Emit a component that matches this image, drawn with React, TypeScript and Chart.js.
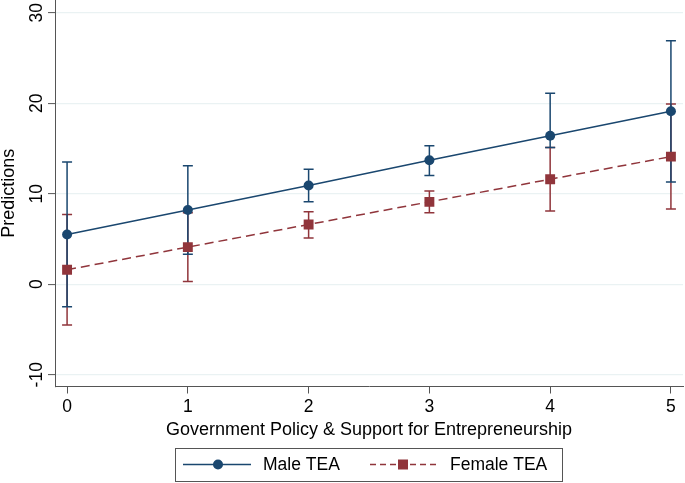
import React, { useEffect, useRef } from "react";
import { Chart, registerables } from "chart.js";

Chart.register(...registerables);

const xValues = [0, 1, 2, 3, 4, 5];
const maleMean = [5.5, 8.2, 10.9, 13.7, 16.4, 19.1];
const maleLow = [-2.5, 3.3, 9.1, 12.0, 15.1, 11.3];
const maleHigh = [13.5, 13.1, 12.7, 15.3, 21.1, 26.9];
const femaleMean = [1.6, 4.1, 6.6, 9.1, 11.6, 14.1];
const femaleLow = [-4.5, 0.3, 5.1, 7.9, 8.1, 8.3];
const femaleHigh = [7.7, 7.9, 8.0, 10.3, 15.1, 19.9];
const yTickValues = [-10, 0, 10, 20, 30];
const xTickValues = [0, 1, 2, 3, 4, 5];
const seriesLabels = ["Male TEA", "Female TEA"];
const xTitle = "Government Policy & Support for Entrepreneurship";
const yTitle = "Predictions";

const BLUE = "#1a476f";
const RED = "#90353b";
const FONT = "'Liberation Sans', Arial, Helvetica, sans-serif";

const errorBarPlugin = {
  id: "errorBars",
  beforeDatasetsDraw(chart: any) {
    const { ctx, scales } = chart;
    const xs = scales.x;
    const ys = scales.y;
    const order = [1, 0];
    for (const di of order) {
      const ds = chart.data.datasets[di];
      const lows = ds.errLow as number[];
      const highs = ds.errHigh as number[];
      ctx.save();
      ctx.strokeStyle = ds.borderColor;
      ctx.lineWidth = 1.5;
      ctx.setLineDash([]);
      ds.data.forEach((p: any, i: number) => {
        const px = xs.getPixelForValue(p.x);
        const yl = ys.getPixelForValue(lows[i]);
        const yh = ys.getPixelForValue(highs[i]);
        ctx.beginPath();
        ctx.moveTo(px, yl);
        ctx.lineTo(px, yh);
        ctx.moveTo(px - 5, yl);
        ctx.lineTo(px + 5, yl);
        ctx.moveTo(px - 5, yh);
        ctx.lineTo(px + 5, yh);
        ctx.stroke();
      });
      ctx.restore();
    }
  },
};

const yLabelPlugin = {
  id: "yLabels",
  afterDraw(chart: any) {
    const { ctx, scales } = chart;
    const ys = scales.y;
    ctx.save();
    ctx.fillStyle = "#000";
    ctx.font = `17.5px ${FONT}`;
    ctx.textAlign = "center";
    ctx.textBaseline = "middle";
    for (const v of yTickValues) {
      const py = ys.getPixelForValue(v);
      ctx.save();
      ctx.translate(37, py);
      ctx.rotate(-Math.PI / 2);
      ctx.fillText(String(v), 0, 0);
      ctx.restore();
    }
    ctx.restore();
  },
};

const legendPlugin = {
  id: "boxLegend",
  afterDraw(chart: any) {
    const { ctx } = chart;
    const ds = chart.data.datasets;
    ctx.save();
    ctx.strokeStyle = "#555";
    ctx.lineWidth = 1;
    ctx.strokeRect(175.5, 448.5, 387, 33);
    const cy = 464.5;
    ctx.strokeStyle = ds[0].borderColor;
    ctx.lineWidth = 1.5;
    ctx.beginPath();
    ctx.moveTo(183, cy);
    ctx.lineTo(251, cy);
    ctx.stroke();
    ctx.fillStyle = ds[0].borderColor;
    ctx.beginPath();
    ctx.arc(218, cy, 5, 0, Math.PI * 2);
    ctx.fill();
    ctx.strokeStyle = ds[1].borderColor;
    ctx.setLineDash([6, 4]);
    ctx.beginPath();
    ctx.moveTo(370, cy);
    ctx.lineTo(438, cy);
    ctx.stroke();
    ctx.setLineDash([]);
    ctx.fillStyle = ds[1].borderColor;
    ctx.fillRect(403 - 5, cy - 5, 10, 10);
    ctx.fillStyle = "#000";
    ctx.font = `17.5px ${FONT}`;
    ctx.textAlign = "left";
    ctx.textBaseline = "middle";
    ctx.fillText(ds[0].label, 263, cy + 1);
    ctx.fillText(ds[1].label, 450, cy + 1);
    ctx.restore();
  },
};

export default function App() {
  const ref = useRef<HTMLCanvasElement | null>(null);
  useEffect(() => {
    if (!ref.current) return;
    const chart = new Chart(ref.current, {
      type: "line",
      data: {
        datasets: [
          {
            label: seriesLabels[0],
            data: xValues.map((x, i) => ({ x, y: maleMean[i] })),
            errLow: maleLow,
            errHigh: maleHigh,
            borderColor: BLUE,
            backgroundColor: BLUE,
            borderWidth: 1.5,
            pointStyle: "circle",
            pointRadius: 5,
            pointBorderWidth: 0,
            pointBackgroundColor: BLUE,
            tension: 0,
          } as any,
          {
            label: seriesLabels[1],
            data: xValues.map((x, i) => ({ x, y: femaleMean[i] })),
            errLow: femaleLow,
            errHigh: femaleHigh,
            borderColor: RED,
            backgroundColor: RED,
            borderWidth: 1.5,
            borderDash: [9, 5],
            pointStyle: "rect",
            pointRadius: 7,
            pointBorderWidth: 0,
            pointBackgroundColor: RED,
            tension: 0,
          } as any,
        ],
      },
      options: {
        animation: false,
        responsive: false,
        layout: { autoPadding: false, padding: { top: 0, right: 2, bottom: 42, left: 0 } },
        plugins: { legend: { display: false }, tooltip: { enabled: false } },
        scales: {
          x: {
            type: "linear",
            min: -0.1,
            max: 5.1,
            afterBuildTicks: (s: any) => {
              s.ticks = xTickValues.map((v) => ({ value: v }));
            },
            afterFit: (s: any) => {
              s.height = 54.5;
              s.paddingLeft = 0;
              s.paddingRight = 0;
            },
            grid: {
              drawOnChartArea: false,
              drawTicks: true,
              tickLength: 7,
              tickColor: "#555",
              tickWidth: 1,
            },
            border: { display: true, color: "#555", width: 1 },
            ticks: {
              color: "#000",
              font: { family: FONT, size: 17.5 },
              padding: 3,
              maxRotation: 0,
              callback: (v: any) => String(v),
            },
            title: {
              display: true,
              text: xTitle,
              color: "#000",
              font: { family: FONT, size: 18 },
              padding: { top: 0, bottom: 0 },
            },
          },
          y: {
            type: "linear",
            min: -11.3,
            max: 31.4,
            afterBuildTicks: (s: any) => {
              s.ticks = yTickValues.map((v) => ({ value: v }));
            },
            afterFit: (s: any) => {
              s.width = 55;
              s.paddingTop = 0;
              s.paddingBottom = 0;
            },
            grid: {
              color: "#eaf2f3",
              lineWidth: 1.2,
              drawTicks: true,
              tickLength: 7,
              tickColor: "#555",
              tickWidth: 1,
            },
            border: { display: true, color: "#555", width: 1 },
            ticks: { display: false },
            title: {
              display: true,
              text: yTitle,
              color: "#000",
              font: { family: FONT, size: 18 },
              padding: { top: -2, bottom: 0 },
            },
          },
        },
      },
      plugins: [errorBarPlugin, yLabelPlugin, legendPlugin],
    } as any);
    return () => chart.destroy();
  }, []);
  return (
    <div style={{ position: "absolute", left: 0, top: 0, width: 685, height: 483, background: "#fff" }}>
      <canvas ref={ref} width={685} height={483} />
    </div>
  );
}
